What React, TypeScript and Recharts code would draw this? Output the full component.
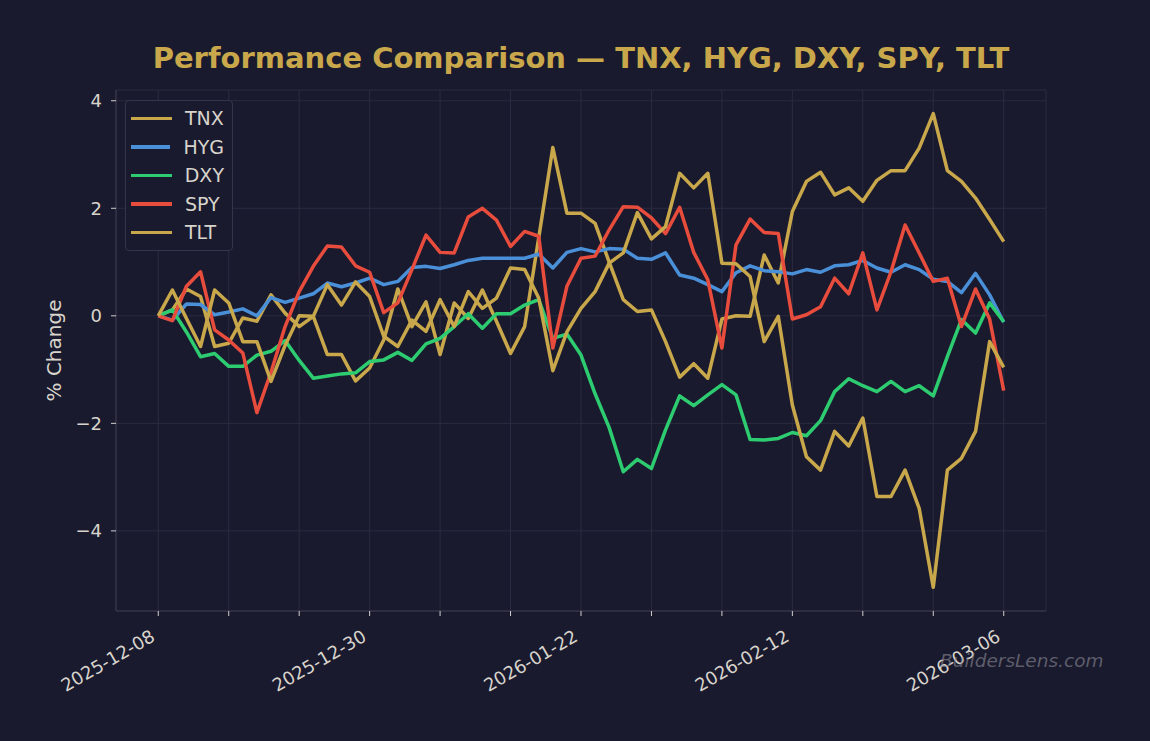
import { CartesianGrid, Legend, Line, LineChart, XAxis, YAxis } from 'recharts'

const DATES = [
  '2025-12-08', '2025-12-09', '2025-12-10', '2025-12-11', '2025-12-12',
  '2025-12-15', '2025-12-16', '2025-12-17', '2025-12-18', '2025-12-19',
  '2025-12-22', '2025-12-23', '2025-12-24', '2025-12-26', '2025-12-29',
  '2025-12-30', '2025-12-31', '2026-01-02', '2026-01-05', '2026-01-06',
  '2026-01-07', '2026-01-08', '2026-01-09', '2026-01-12', '2026-01-13',
  '2026-01-14', '2026-01-15', '2026-01-16', '2026-01-20', '2026-01-21',
  '2026-01-22', '2026-01-23', '2026-01-26', '2026-01-27', '2026-01-28',
  '2026-01-29', '2026-01-30', '2026-02-02', '2026-02-03', '2026-02-04',
  '2026-02-05', '2026-02-06', '2026-02-09', '2026-02-10', '2026-02-11',
  '2026-02-12', '2026-02-13', '2026-02-17', '2026-02-18', '2026-02-19',
  '2026-02-20', '2026-02-23', '2026-02-24', '2026-02-25', '2026-02-26',
  '2026-02-27', '2026-03-02', '2026-03-03', '2026-03-04', '2026-03-05',
  '2026-03-06',
]

const TNX = [
  0, 0.11, 0.5, 0.36, -0.57, -0.51, -0.04, -0.1, 0.39, 0.05,
  -0.2, -0.01, -0.72, -0.72, -1.21, -0.97, -0.45, 0.5, -0.2, 0.26,
  -0.72, 0.24, -0.05, 0.48, -0.1, -0.7, -0.2, 1.45, 3.13, 1.91,
  1.91, 1.72, 1.0, 0.3, 0.08, 0.11, -0.48, -1.14, -0.89, -1.16,
  -0.06, 0.0, -0.01, 1.13, 0.61, 1.94, 2.5, 2.67, 2.25, 2.38,
  2.13, 2.52, 2.7, 2.7, 3.12, 3.76, 2.7, 2.5, 2.19, 1.79,
  1.38,
]

const HYG = [
  0, -0.08, 0.22, 0.21, 0.02, 0.07, 0.13, 0.0, 0.34, 0.25,
  0.33, 0.41, 0.61, 0.54, 0.61, 0.7, 0.58, 0.64, 0.9, 0.92,
  0.88, 0.95, 1.03, 1.07, 1.07, 1.07, 1.07, 1.15, 0.89, 1.18,
  1.25, 1.19, 1.25, 1.24, 1.07, 1.05, 1.17, 0.76, 0.7, 0.58,
  0.45, 0.8, 0.93, 0.84, 0.82, 0.78, 0.86, 0.81, 0.93, 0.95,
  1.03, 0.89, 0.81, 0.95, 0.86, 0.68, 0.64, 0.43, 0.79, 0.39,
  -0.12,
]

const DXY = [
  0, 0.11, -0.3, -0.76, -0.7, -0.94, -0.94, -0.73, -0.66, -0.46,
  -0.83, -1.16, -1.12, -1.08, -1.06, -0.85, -0.82, -0.68, -0.83, -0.52,
  -0.42, -0.2, 0.04, -0.23, 0.04, 0.04, 0.2, 0.3, -0.42, -0.34,
  -0.73, -1.45, -2.08, -2.9, -2.67, -2.84, -2.12, -1.49, -1.67, -1.47,
  -1.28, -1.47, -2.3, -2.31, -2.28, -2.17, -2.23, -1.95, -1.41, -1.17,
  -1.3, -1.41, -1.22, -1.41, -1.3, -1.49, -0.76, -0.07, -0.32, 0.24,
  -0.11,
]

const SPY = [
  0, -0.09, 0.55, 0.82, -0.26, -0.45, -0.69, -1.8, -1.05, -0.2,
  0.45, 0.92, 1.3, 1.28, 0.93, 0.81, 0.06, 0.24, 0.86, 1.5,
  1.18, 1.17, 1.84, 2.0, 1.78, 1.29, 1.57, 1.48, -0.6, 0.55,
  1.07, 1.11, 1.6, 2.03, 2.02, 1.82, 1.53, 2.02, 1.18, 0.67,
  -0.6, 1.32, 1.8, 1.55, 1.53, -0.06, 0.02, 0.17, 0.7, 0.41,
  1.17, 0.11, 0.82, 1.69, 1.17, 0.64, 0.7, -0.2, 0.5, -0.06,
  -1.39,
]

const TLT = [
  0, 0.48, -0.05, -0.57, 0.48, 0.24, -0.48, -0.48, -1.22, -0.55,
  0.0, -0.01, 0.58, 0.2, 0.63, 0.36, -0.38, -0.57, -0.08, -0.29,
  0.3, -0.2, 0.45, 0.14, 0.33, 0.89, 0.86, 0.33, -1.02, -0.3,
  0.14, 0.45, 0.98, 1.17, 1.92, 1.43, 1.66, 2.65, 2.38, 2.65,
  0.98, 0.97, 0.73, -0.48, -0.01, -1.66, -2.62, -2.87, -2.15, -2.42,
  -1.9, -3.36, -3.36, -2.87, -3.58, -5.05, -2.87, -2.65, -2.15, -0.48,
  -0.96,
]

const X_TICKS = [0, 5, 10, 15, 20, 25, 30, 35, 40, 45, 50, 55, 60]
const Y_TICKS = [-4, -2, 0, 2, 4]

const BG = '#1a1a2e'
const GOLD = '#c9a84c'
const TEXT = '#d8d4cc'
const GRID = '#2b2b40'
const FONT = '"DejaVu Sans", sans-serif'

const SERIES = [
  { key: 'TNX', values: TNX, color: GOLD },
  { key: 'HYG', values: HYG, color: '#4a90d9' },
  { key: 'DXY', values: DXY, color: '#2ecc71' },
  { key: 'SPY', values: SPY, color: '#e74c3c' },
  { key: 'TLT', values: TLT, color: GOLD },
]

const data = DATES.map((date, i) => {
  const row: Record<string, number | string> = { i, date }
  for (const s of SERIES) row[s.key] = s.values[i]
  return row
})

function DateTick({ x, y, payload }: any) {
  const label = payload.value % 15 === 0 ? DATES[payload.value] : ''
  if (!label) return null
  const ax = x - 2
  const ay = y + 22
  return (
    <text
      x={ax}
      y={ay}
      textAnchor="end"
      fill={TEXT}
      fontSize={18}
      fontFamily={FONT}
      transform={`rotate(-30 ${ax} ${ay})`}
    >
      {label}
    </text>
  )
}

function LegendBox() {
  return (
    <div
      style={{
        border: '1px solid #34344a',
        borderRadius: 4,
        background: BG,
        padding: '3px 8px 3px 5px',
        width: 93,
        fontFamily: FONT,
        fontSize: 19,
        color: TEXT,
        boxSizing: 'content-box',
      }}
    >
      {SERIES.map((s) => (
        <div key={s.key} style={{ display: 'flex', alignItems: 'center', height: 28.5 }}>
          <span
            style={{ display: 'inline-block', width: 41, height: 3.5, background: s.color, marginRight: 13 }}
          />
          <span>{s.key}</span>
        </div>
      ))}
    </div>
  )
}

export default function App() {
  return (
    <div
      style={{
        position: 'fixed',
        left: 0,
        top: 0,
        width: 1150,
        height: 741,
        background: BG,
        fontFamily: FONT,
      }}
    >
      <div
        style={{
          position: 'absolute',
          left: 116,
          width: 930,
          top: 41,
          textAlign: 'center',
          color: GOLD,
          fontSize: 29,
          fontWeight: 'bold',
        }}
      >
        Performance Comparison — TNX, HYG, DXY, SPY, TLT
      </div>
      <LineChart
        width={1150}
        height={741}
        data={data}
        margin={{ top: 90, right: 104, left: 56, bottom: 40 }}
      >
        <CartesianGrid stroke={GRID} strokeWidth={1} />
        <XAxis
          dataKey="i"
          type="number"
          domain={[-3, 63]}
          ticks={X_TICKS}
          interval={0}
          allowDataOverflow
          height={90}
          tick={<DateTick />}
          tickSize={5}
          stroke="#3a3a50"
          tickLine={{ stroke: '#cfcfcf' }}
        />
        <YAxis
          type="number"
          domain={[-5.49, 4.2]}
          ticks={Y_TICKS}
          allowDataOverflow
          width={60}
          tickSize={5}
          tickMargin={9}
          stroke="#3a3a50"
          tickLine={{ stroke: '#cfcfcf' }}
          tick={{ fill: TEXT, fontSize: 18, fontFamily: FONT }}
          tickFormatter={(v: number) => (v < 0 ? `\u2212${Math.abs(v)}` : `${v}`)}
          label={{
            value: '% Change',
            angle: -90,
            position: 'insideLeft',
            offset: -2,
            style: { fill: TEXT, fontSize: 20, fontFamily: FONT, textAnchor: 'middle' },
          }}
        />
        <Legend
          layout="vertical"
          verticalAlign="middle"
          align="center"
          wrapperStyle={{ left: 125, top: 100, width: 108 }}
          content={() => <LegendBox />}
        />
        {SERIES.map((s) => (
          <Line
            key={s.key}
            type="linear"
            dataKey={s.key}
            stroke={s.color}
            strokeWidth={3.5}
            strokeLinejoin="round"
            dot={false}
            activeDot={false}
            isAnimationActive={false}
          />
        ))}
      </LineChart>
      <div
        style={{
          position: 'absolute',
          left: 940,
          top: 650,
          color: 'rgba(140,140,150,0.6)',
          fontSize: 18.5,
          fontStyle: 'italic',
        }}
      >
        BuildersLens.com
      </div>
    </div>
  )
}
